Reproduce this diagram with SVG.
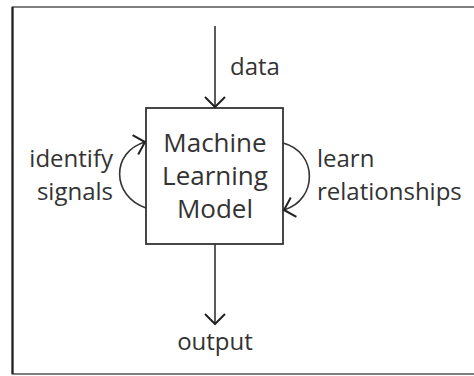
<svg xmlns="http://www.w3.org/2000/svg" width="474" height="376" viewBox="0 0 474 376">
<style>
.t{font-family:"Open Sans","Liberation Sans",sans-serif;font-size:24px;fill:#333}
.m{font-size:26px}
.c{fill:none;stroke:#333;stroke-width:1.6}
</style>
<defs>
<marker id="ah" viewBox="0 0 22 22" refX="11.5" refY="11" markerWidth="22" markerHeight="22" markerUnits="userSpaceOnUse" orient="auto">
<path d="M1.5,1 L11.5,11 L1.5,21" fill="none" stroke="#222" stroke-width="2"/>
</marker>
</defs>
<rect width="474" height="376" fill="#fff"/>
<g id="frame">
<path d="M474,7 H12.5 V374 H474" fill="none" stroke="#555" stroke-width="1.5"/>
<line x1="12.5" y1="7" x2="12.5" y2="374" stroke="#222" stroke-width="2.2"/>
</g>
<g id="model">
<rect x="146" y="108" width="137" height="136" fill="#fff" stroke="#333" stroke-width="1.8"/>
<text class="t m" text-anchor="middle" x="215" y="152">Machine</text>
<text class="t m" text-anchor="middle" x="215" y="185">Learning</text>
<text class="t m" text-anchor="middle" x="215" y="218">Model</text>
</g>
<g id="connectors">
<line class="c" x1="215" y1="26" x2="215" y2="107" marker-end="url(#ah)"/>
<line class="c" x1="215" y1="244" x2="215" y2="324" marker-end="url(#ah)"/>
<path class="c" d="M146,208 C111,196 111,152 145,142" marker-end="url(#ah)"/>
<path class="c" d="M283,143 C318,152 318,200 284,210" marker-end="url(#ah)"/>
</g>
<g id="labels">
<text class="t" x="230" y="75">data</text>
<text class="t" text-anchor="end" x="113" y="167">identify</text>
<text class="t" text-anchor="end" x="113" y="200">signals</text>
<text class="t" x="317" y="167">learn</text>
<text class="t" x="317" y="200">relationships</text>
<text class="t" text-anchor="middle" x="215" y="350">output</text>
</g>
</svg>
